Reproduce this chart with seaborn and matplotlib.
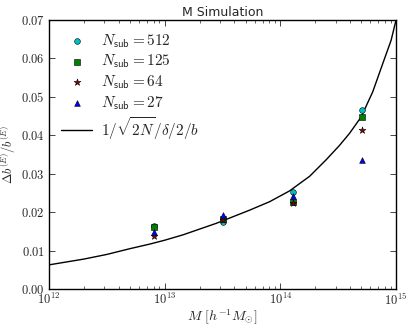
import numpy as np
import pandas as pd
import matplotlib
matplotlib.use("Agg")
import matplotlib.pyplot as plt
import seaborn as sns
from matplotlib.ticker import FuncFormatter, LogLocator, NullFormatter, MultipleLocator

# Data
mass = [8e12, 3.2e13, 1.28e14, 5.12e14]
n512 = [0.0165, 0.0176, 0.0254, 0.0467]
n125 = [0.0161, 0.0182, 0.0228, 0.0447]
n64 = [0.0139, 0.0180, 0.0224, 0.0414]
n27 = [0.0148, 0.0194, 0.0244, 0.0335]

curve_m = [1e12, 2e12, 3.15e12, 5e12, 7.44e12, 1e13, 1.44e13, 2.8e13, 5.42e13,
           8.07e13, 1.2e14, 1.79e14, 2.49e14, 3.24e14, 3.95e14, 4.99e14,
           6.28e14, 7.66e14, 9.06e14, 1e15]
curve_v = [0.0064, 0.0079, 0.0091, 0.0106, 0.0118, 0.0128, 0.0142, 0.0172, 0.0206,
           0.0228, 0.0256, 0.0294, 0.0337, 0.0374, 0.0405, 0.0448,
           0.0513, 0.0586, 0.0647, 0.0700]

series = [
    (r"$N_{\mathsf{sub}}=512$", n512, "o", "c"),
    (r"$N_{\mathsf{sub}}=125$", n125, "s", "g"),
    (r"$N_{\mathsf{sub}}=64$", n64, "*", "darkred"),
    (r"$N_{\mathsf{sub}}=27$", n27, "^", "b"),
]

sns.set_style("ticks")
plt.rcParams["mathtext.fontset"] = "cm"
plt.rcParams["font.family"] = ["DejaVu Sans"]

fig = plt.figure(figsize=(4.13, 3.26), dpi=100)
ax = fig.add_axes([0.119, 0.112, 0.840, 0.827])

for label, vals, mk, col in series:
    df = pd.DataFrame({"M": mass, "v": vals})
    sns.scatterplot(data=df, x="M", y="v", marker=mk, color=col, s=17 if mk != "*" else 26,
                    edgecolor="black", linewidth=0.4, ax=ax, label=label, zorder=3)

dfc = pd.DataFrame({"M": curve_m, "v": curve_v})
sns.lineplot(data=dfc, x="M", y="v", color="black", lw=1.0, ax=ax,
             label=r"$1/\sqrt{2N}/\delta/2/b$", sort=True, zorder=2)

ax.set_xscale("log")
ax.set_xlim(1e12, 1e15)
ax.set_ylim(0, 0.07)
ax.yaxis.set_major_locator(MultipleLocator(0.01))
ax.yaxis.set_major_formatter(FuncFormatter(lambda v, p: r"$%.2f$" % v))
ax.xaxis.set_major_locator(LogLocator(base=10, numticks=10))
ax.xaxis.set_minor_locator(LogLocator(base=10, subs=np.arange(2, 10), numticks=20))
ax.xaxis.set_minor_formatter(NullFormatter())
ax.xaxis.set_major_formatter(FuncFormatter(lambda v, p: r"$10^{%d}$" % round(np.log10(v))))
ax.tick_params(which="both", direction="in", top=True, right=True, labelsize=9)
ax.tick_params(axis="x", pad=2)
ax.tick_params(axis="y", pad=3)
ax.tick_params(which="major", length=4, width=0.6)
ax.tick_params(which="minor", length=2, width=0.5)
for sp in ax.spines.values():
    sp.set_linewidth(1.0)
    sp.set_color("black")

ax.set_xlabel(r"$M\ [h^{-1}M_{\odot}]$", fontsize=10, labelpad=0)
ax.set_ylabel(r"$\Delta b^{(E)}/b^{(E)}$", fontsize=9, labelpad=2)
ax.set_title("M Simulation", fontsize=9, pad=3)

leg = ax.legend(loc="upper left", frameon=False, fontsize=11, handlelength=2.0,
                labelspacing=0.2, borderaxespad=0.5, handletextpad=0.6,
                borderpad=0.3)

fig.savefig("out.png", dpi=100)
